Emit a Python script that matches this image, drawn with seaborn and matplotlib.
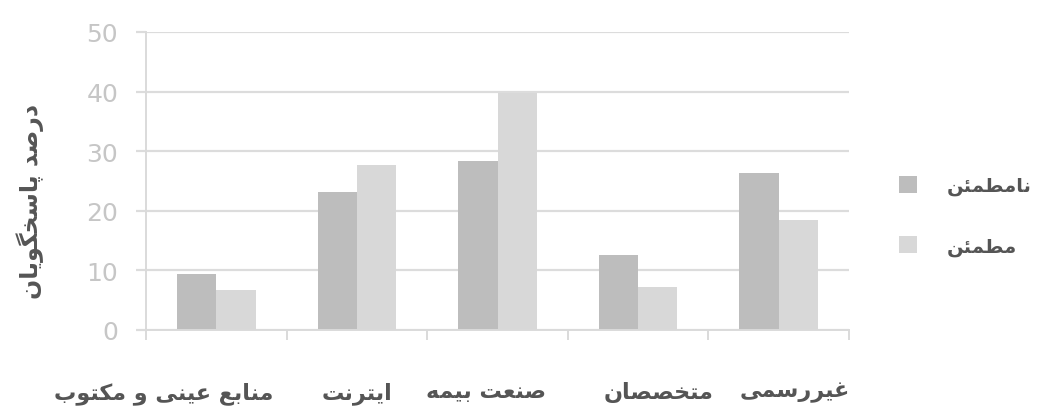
import matplotlib
matplotlib.use("Agg")
import matplotlib.pyplot as plt
import matplotlib.transforms as mtransforms
import seaborn as sns
import pandas as pd

# ---- data ----
categories = ["منابع عینی و مکتوب", "ایترنت", "صنعت بیمه", "متخصصان", "غیررسمی"]
series_names = ["نامطمئن", "مطمئن"]
unsure_values = [9.4, 23.2, 28.4, 12.6, 26.3]
sure_values = [6.7, 27.7, 39.7, 7.2, 18.5]
y_ticks = [0, 10, 20, 30, 40, 50]
y_label = "درصد پاسخگویان"

# ---- simple Arabic/Persian shaping (presentation forms) ----
FORMS = {
    "ا": ("\uFE8D", "\uFE8E"),
    "د": ("\uFEA9", "\uFEAA"),
    "ر": ("\uFEAD", "\uFEAE"),
    "و": ("\uFEED", "\uFEEE"),
    "ب": ("\uFE8F", "\uFE90", "\uFE91", "\uFE92"),
    "پ": ("\uFB56", "\uFB57", "\uFB58", "\uFB59"),
    "ت": ("\uFE95", "\uFE96", "\uFE97", "\uFE98"),
    "خ": ("\uFEA5", "\uFEA6", "\uFEA7", "\uFEA8"),
    "س": ("\uFEB1", "\uFEB2", "\uFEB3", "\uFEB4"),
    "ص": ("\uFEB9", "\uFEBA", "\uFEBB", "\uFEBC"),
    "ط": ("\uFEC1", "\uFEC2", "\uFEC3", "\uFEC4"),
    "ع": ("\uFEC9", "\uFECA", "\uFECB", "\uFECC"),
    "غ": ("\uFECD", "\uFECE", "\uFECF", "\uFED0"),
    "ک": ("\uFB8E", "\uFB8F", "\uFB90", "\uFB91"),
    "گ": ("\uFB92", "\uFB93", "\uFB94", "\uFB95"),
    "م": ("\uFEE1", "\uFEE2", "\uFEE3", "\uFEE4"),
    "ن": ("\uFEE5", "\uFEE6", "\uFEE7", "\uFEE8"),
    "ه": ("\uFEE9", "\uFEEA", "\uFEEB", "\uFEEC"),
    "ی": ("\uFBFC", "\uFBFD", "\uFBFE", "\uFBFF"),
    "ئ": ("\uFE89", "\uFE8A", "\uFE8B", "\uFE8C"),
}


def shape(s):
    chars = list(s)
    out = []
    for i, c in enumerate(chars):
        if c not in FORMS:
            out.append(c)
            continue
        forms = FORMS[c]
        prev = chars[i - 1] if i > 0 else None
        nxt = chars[i + 1] if i + 1 < len(chars) else None
        jp = prev in FORMS and len(FORMS[prev]) == 4
        jn = nxt in FORMS and len(forms) == 4
        if jp and jn:
            f = forms[3]
        elif jp:
            f = forms[1]
        elif jn:
            f = forms[2]
        else:
            f = forms[0]
        out.append(f)
    return "".join(reversed(out))


df = pd.DataFrame({
    "category": categories * 2,
    "series": [series_names[0]] * len(categories) + [series_names[1]] * len(categories),
    "value": unsure_values + sure_values,
})

sns.set_theme(style="white")
plt.rcParams["font.family"] = ["DejaVu Sans"]

fig = plt.figure(figsize=(10.39, 4.14), dpi=100)
ax = fig.add_axes([146 / 1039, 1 - 331 / 414, 703 / 1039, 298 / 414])

palette = {series_names[0]: "#bdbdbd", series_names[1]: "#d8d8d8"}
sns.barplot(data=df, x="category", y="value", hue="series", order=categories,
            hue_order=series_names, palette=palette, width=0.56, saturation=1,
            ax=ax, legend=True, linewidth=0)

ax.set_ylim(0, 50)
ax.set_xlim(-0.5, len(categories) - 0.5)
ax.set_yticks(y_ticks)
ax.set_yticklabels([str(t) for t in y_ticks], fontsize=18, color="#c6c6c6")
ax.yaxis.grid(True, color="#dcdcdc", linewidth=1.6)
ax.set_axisbelow(True)

for s in ["top", "right"]:
    ax.spines[s].set_visible(False)
for s in ["bottom", "left"]:
    ax.spines[s].set_color("#dadada")
    ax.spines[s].set_linewidth(1.4)

ax.tick_params(axis="y", which="major", length=7, width=1.6, color="#dcdcdc",
               pad=13, left=True)
ax.set_xticks(range(len(categories)))
ax.set_xticklabels([shape(c) for c in categories], fontsize=16, fontweight="bold",
                   color="#555555")
ax.tick_params(axis="x", which="major", length=0, pad=37)
ax.set_xticks([i - 0.5 for i in range(len(categories) + 1)], minor=True)
ax.tick_params(axis="x", which="minor", length=7, width=1.4, color="#dadada",
               bottom=True)

# label placement as in the reference (horizontal shifts in pixels)
label_shift_px = [-53, 0, -12, 20, 16]
for lbl, dx in zip(ax.get_xticklabels(), label_shift_px):
    lbl.set_transform(lbl.get_transform() +
                      mtransforms.ScaledTranslation(dx / 100, 0, fig.dpi_scale_trans))

ax.set_xlabel("")
ax.set_ylabel(shape(y_label), fontsize=17, fontweight="bold", color="#555555",
              va="center")
ax.yaxis.set_label_coords(-0.165, 0.435)

handles, labels = ax.get_legend_handles_labels()
ax.legend(handles, [shape(l) for l in labels], loc="upper left",
          bbox_to_anchor=(899 / 1039, 1 - 177 / 414), bbox_transform=fig.transFigure,
          frameon=False, handlelength=0.95, handleheight=0.95,
          handletextpad=1.5, labelspacing=2.1, borderpad=0, borderaxespad=0,
          prop={"weight": "bold", "size": 14})
for t in ax.get_legend().get_texts():
    t.set_color("#555555")

fig.savefig("out.png", dpi=100)
